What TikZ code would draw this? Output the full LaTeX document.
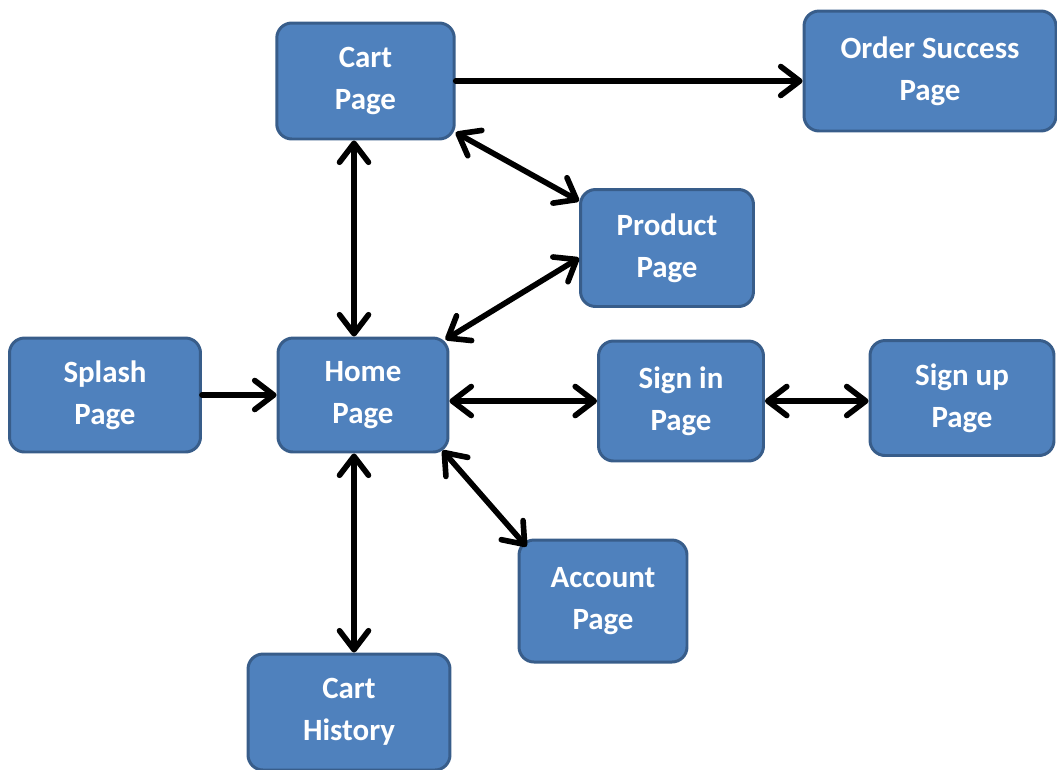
\documentclass[tikz,border=0pt]{standalone}
\usepackage{fontspec}
\setmainfont{Carlito}
\usetikzlibrary{arrows.meta, calc}

\definecolor{boxblue}{HTML}{4F81BD}
\definecolor{boxedge}{HTML}{385D8A}

\begin{document}
\begin{tikzpicture}[x=0.02cm, y=-0.02cm]
		\tikzstyle{Page} = [rectangle, rounded corners=0.3cm, draw=boxedge, line width=1.7pt, fill=boxblue, text=white, align=center, font=\fontsize{17.6}{23.8}\selectfont\bfseries]
		\tikzstyle{arrow} = [line width=3.2pt, black, line cap=round, -{Straight Barb[length=3.8mm, width=5.8mm, round]}]
		\tikzstyle{darrow} = [arrow, {Straight Barb[length=3.8mm, width=5.8mm, round]}-{Straight Barb[length=3.8mm, width=5.8mm, round]}]
		
		\useasboundingbox (0,0) rectangle (1057,769);
		
		\node (cart) [Page, minimum width=3.55cm, minimum height=2.32cm] at (365.5,81) {Cart\\Page};
		\node (order) [Page, minimum width=5.04cm, minimum height=2.4cm] at (930,71) {Order Success\\Page};
		\node (product) [Page, minimum width=3.46cm, minimum height=2.34cm] at (667,248) {Product\\Page};
		\node (splash) [Page, minimum width=3.82cm, minimum height=2.28cm] at (105,395) {Splash\\Page};
		\node (home) [Page, minimum width=3.4cm, minimum height=2.28cm] at (363,395) {Home\\Page};
		\node (signin) [Page, minimum width=3.3cm, minimum height=2.4cm] at (681,401) {Sign in\\Page};
		\node (signup) [Page, minimum width=3.68cm, minimum height=2.3cm] at (962,398) {Sign up\\Page};
		\node (account) [Page, minimum width=3.36cm, minimum height=2.44cm] at (603,601) {Account\\Page};
		\node (hist) [Page, minimum width=4.04cm, minimum height=2.32cm] at (349,712) {Cart\\History};
		
		\coordinate (spine) at ($(home.north)+(-9,0)$);
		
		\draw [arrow] (splash.east) -- (home.west);
		\draw [arrow] (cart.east) -- (cart.east -| order.west);
		\draw [darrow] (spine |- cart.south) -- (spine |- home.north);
		\draw [darrow] ($(cart.south east)+(0,-8)$) -- ($(product.north west)+(0,13)$);
		\draw [darrow] ($(home.north east)+(-4,3)$) -- ($(product.west)+(0,10)$);
		\draw [darrow] (home.east |- signin.west) -- (signin.west);
		\draw [darrow] (signin.east) -- (signin.east -| signup.west);
		\draw [darrow] ($(home.south east)+(-7,-3)$) -- ($(account.north west)+(9,8)$);
		\draw [darrow] (spine |- home.south) -- (spine |- hist.north);
\end{tikzpicture}
\end{document}
